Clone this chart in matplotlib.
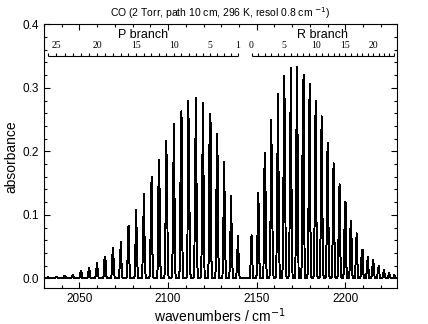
import numpy as np
import matplotlib
matplotlib.use("Agg")
import matplotlib.pyplot as plt
from matplotlib.ticker import MultipleLocator

# line positions (cm-1) and peak absorbance
p_j = list(range(1, 27))
p_pos = [2139.43, 2135.55, 2131.63, 2127.68, 2123.70, 2119.68, 2115.63, 2111.54,
         2107.42, 2103.27, 2099.08, 2094.86, 2090.61, 2086.32, 2082.00, 2077.65,
         2073.27, 2068.85, 2064.40, 2059.92, 2055.40, 2050.86, 2046.28, 2041.68,
         2037.04, 2032.37]
p_abs = [0.067, 0.130, 0.184, 0.227, 0.259, 0.277, 0.284, 0.279, 0.263, 0.243,
         0.216, 0.187, 0.160, 0.133, 0.107, 0.083, 0.057, 0.048, 0.034, 0.025,
         0.017, 0.012, 0.006, 0.004, 0.003, 0.002]

r_j = list(range(0, 25))
r_pos = [2147.08, 2150.86, 2154.60, 2158.30, 2161.97, 2165.60, 2169.20, 2172.76,
         2176.28, 2179.77, 2183.22, 2186.64, 2190.02, 2193.36, 2196.66, 2199.93,
         2203.16, 2206.35, 2209.51, 2212.63, 2215.71, 2218.75, 2221.75, 2224.72,
         2227.64]
r_abs = [0.068, 0.135, 0.198, 0.249, 0.291, 0.318, 0.332, 0.333, 0.320, 0.306,
         0.280, 0.255, 0.214, 0.181, 0.148, 0.121, 0.091, 0.071, 0.045, 0.034,
         0.029, 0.019, 0.013, 0.008, 0.005]

p_labels = [25, 20, 15, 10, 5, 1]
r_labels = [0, 5, 10, 15, 20]

# spectrum sampled like the instrument (0.8 cm-1 resolution)
step = 0.482
sig = 0.8 / 2.355
nu = np.arange(2029.0, 2231.0, step)
spec = np.zeros_like(nu)
for c, h in zip(p_pos + r_pos, p_abs + r_abs):
    d = np.min(np.abs(nu - c))
    scale = h / np.exp(-d**2 / (2 * sig**2))
    spec += scale * np.exp(-(nu - c)**2 / (2 * sig**2))

fig = plt.figure(figsize=(4.28, 3.24), dpi=100)
ax = fig.add_axes([0.1028, 0.1102, 0.8241, 0.8148])
ax.plot(nu, spec, color="black", lw=0.7, antialiased=False)

ax.set_xlim(2030, 2229)
ax.set_ylim(-0.0156, 0.4)
ax.xaxis.set_major_locator(MultipleLocator(50))
ax.xaxis.set_minor_locator(MultipleLocator(10))
ax.yaxis.set_major_locator(MultipleLocator(0.1))
ax.yaxis.set_minor_locator(MultipleLocator(0.02))
ax.tick_params(which="both", direction="in", top=True, right=True,
               labelsize=8.5, width=0.8)
ax.tick_params(which="major", length=4)
ax.tick_params(which="minor", length=2.5)
ax.yaxis.set_major_formatter(plt.FormatStrFormatter("%.1f"))
for s in ax.spines.values():
    s.set_linewidth(0.8)
for lab in ax.get_xticklabels() + ax.get_yticklabels():
    lab.set_family("Liberation Sans")

ax.set_xlabel("wavenumbers / cm$^{-1}$", fontsize=10, family="Liberation Sans", labelpad=1)
ax.set_ylabel("absorbance", fontsize=10, family="Liberation Sans", labelpad=3)
ax.set_title("CO (2 Torr, path 10 cm, 296 K, resol 0.8 cm $^{-1}$)", fontsize=7.5,
             family="Liberation Sans", pad=5)

# branch scales at the top
ybar = 0.350
tick_h = 0.005
for pos, js, labs, name in [(p_pos, p_j, p_labels, "P branch"),
                            (r_pos, r_j, r_labels, "R branch")]:
    ax.hlines(ybar, min(pos), max(pos), color="black", lw=0.8)
    ax.vlines(pos, ybar, ybar + tick_h, color="black", lw=0.8)
    for j in labs:
        ax.text(pos[js.index(j)], ybar + 0.009, str(j), ha="center", va="bottom",
                fontsize=7, family="Liberation Serif")
    ax.text((min(pos) + max(pos)) / 2, 0.374, name, ha="center", va="bottom",
            fontsize=9, family="Liberation Sans")

fig.savefig("out.png", dpi=100)
